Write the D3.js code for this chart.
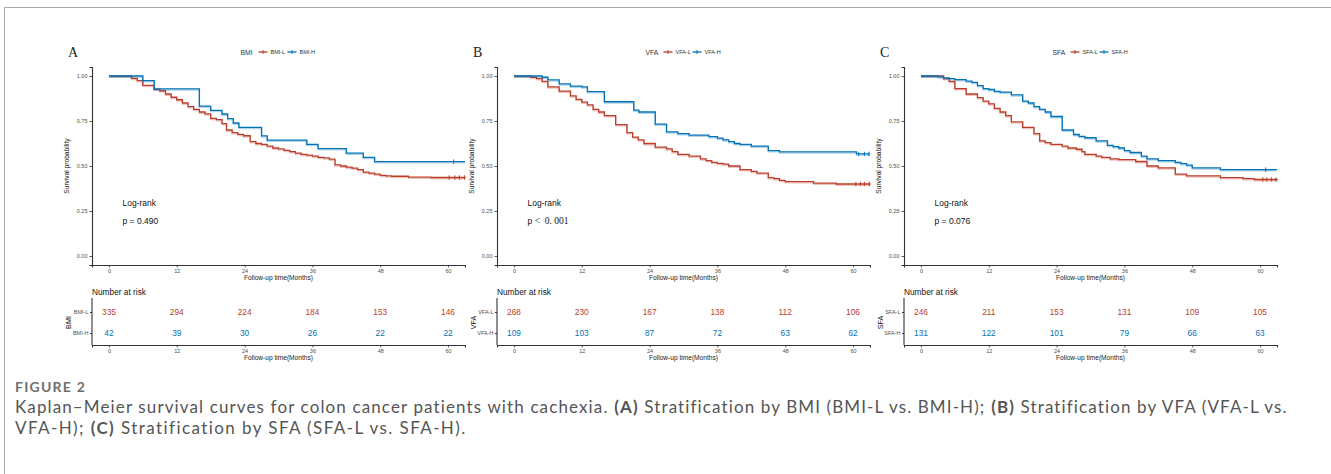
<!DOCTYPE html>
<html lang="en">
<head>
<meta charset="UTF-8">
<title>Figure 2</title>
<script src="https://cdn.jsdelivr.net/npm/d3@7"></script>
<style>
    body { margin: 0; background: #fff; }
    svg { display: block; }
    .tick text { fill: #4d4d4d; font-family: "Liberation Sans", Arial, sans-serif; }
    .domain, .tick line { stroke: #333; }
    .cap { white-space: pre; }
</style>
</head>
<body>
<svg></svg>
<script>
// ---- data ----
const months = [0, 12, 24, 36, 48, 60];
const yTicks = [0, 0.25, 0.5, 0.75, 1];
const panelLetters = ['A', 'B', 'C'];
const groupNames = ['BMI', 'VFA', 'SFA'];
const pTexts = ['p = 0.490', 'p < 0.001', 'p = 0.076'];

const bmiLTime = [0, 4, 5, 6, 8, 9, 10, 11, 12, 13, 14, 15, 16, 17, 18, 19, 20, 20.8, 21.8, 22.8, 23.8, 25, 26, 27, 28, 29, 30, 31, 32, 33, 34, 35, 36, 37, 38, 39, 40, 41, 42, 43, 44, 45, 46, 47, 48, 49, 50, 53, 57, 63];
const bmiLSurv = [1, 0.987, 0.974, 0.948, 0.926, 0.918, 0.9, 0.882, 0.868, 0.85, 0.83, 0.815, 0.8, 0.79, 0.765, 0.758, 0.735, 0.70, 0.685, 0.676, 0.668, 0.635, 0.625, 0.62, 0.61, 0.60, 0.595, 0.587, 0.58, 0.572, 0.565, 0.56, 0.555, 0.548, 0.545, 0.538, 0.506, 0.50, 0.494, 0.488, 0.48, 0.466, 0.46, 0.455, 0.448, 0.445, 0.443, 0.438, 0.436, 0.433];
const bmiHTime = [0, 6, 8, 16, 18, 20, 21, 22, 23, 27, 28, 35, 37, 42, 45, 47, 63];
const bmiHSurv = [1, 0.974, 0.928, 0.833, 0.809, 0.789, 0.763, 0.739, 0.715, 0.667, 0.644, 0.62, 0.596, 0.572, 0.548, 0.524, 0.524];
const bmiLCens = [60.2, 61.2, 62, 62.9];
const bmiHCens = [61];

const vfaLTime = [0, 3, 4, 5, 6, 8, 10, 11, 12, 13, 14, 15, 16, 18, 20, 21, 22, 23, 25, 27, 28, 29, 31, 33, 34, 35, 36, 37, 38, 40, 42, 43, 45, 46, 47, 48, 53, 57, 63];
const vfaLSurv = [1, 0.993, 0.985, 0.97, 0.94, 0.916, 0.89, 0.87, 0.855, 0.84, 0.815, 0.80, 0.78, 0.73, 0.685, 0.66, 0.645, 0.625, 0.605, 0.595, 0.58, 0.565, 0.555, 0.54, 0.53, 0.52, 0.515, 0.51, 0.50, 0.48, 0.47, 0.46, 0.435, 0.43, 0.42, 0.413, 0.405, 0.40, 0.397];
const vfaHTime = [0, 5, 6, 8, 10, 12, 13, 16, 21.2, 22.1, 25, 27, 29, 31, 34.5, 36, 37, 38, 39, 40, 42, 45, 47, 60.6, 63];
const vfaHSurv = [1, 0.993, 0.978, 0.956, 0.944, 0.94, 0.913, 0.857, 0.81, 0.80, 0.733, 0.69, 0.68, 0.672, 0.663, 0.655, 0.645, 0.635, 0.625, 0.62, 0.61, 0.585, 0.578, 0.567, 0.567];
const vfaLCens = [60.5, 61.3, 62, 62.9];
const vfaHCens = [61, 62, 62.8];

const sfaLTime = [0, 4, 5, 6, 8, 10, 11, 12, 13, 14, 15, 16, 18, 20, 21, 22, 23, 25, 26, 27.5, 28.5, 29, 31, 32, 33.5, 35, 38, 40, 42, 45, 47, 53, 57, 59, 63];
const sfaLSurv = [1, 0.985, 0.97, 0.93, 0.90, 0.88, 0.86, 0.845, 0.82, 0.80, 0.78, 0.745, 0.715, 0.68, 0.64, 0.63, 0.62, 0.61, 0.60, 0.593, 0.58, 0.565, 0.555, 0.548, 0.54, 0.535, 0.525, 0.50, 0.49, 0.455, 0.445, 0.435, 0.43, 0.425, 0.42];
const sfaHTime = [0, 3, 4, 5, 6, 8, 9, 10, 11, 12, 13, 14, 16, 18, 19, 20, 21, 22, 23, 25, 27, 28, 29, 31, 33, 34, 35, 36, 37, 39, 40, 42, 45, 46, 47, 48, 53, 63];
const sfaHSurv = [1, 0.995, 0.99, 0.985, 0.98, 0.972, 0.965, 0.946, 0.93, 0.925, 0.915, 0.91, 0.895, 0.86, 0.85, 0.83, 0.815, 0.80, 0.775, 0.70, 0.675, 0.665, 0.657, 0.64, 0.615, 0.608, 0.60, 0.585, 0.575, 0.555, 0.54, 0.53, 0.52, 0.513, 0.505, 0.49, 0.48, 0.48];
const sfaLCens = [60.5, 61.2, 62, 62.8];
const sfaHCens = [61];

const bmiLRisk = [335, 294, 224, 184, 153, 146];
const bmiHRisk = [42, 39, 30, 26, 22, 22];
const vfaLRisk = [268, 230, 167, 138, 112, 106];
const vfaHRisk = [109, 103, 87, 72, 63, 62];
const sfaLRisk = [246, 211, 153, 131, 109, 105];
const sfaHRisk = [131, 122, 101, 79, 66, 63];

const red = '#BC3C29';
const blue = '#0072B5';
const sans = '"Liberation Sans", Arial, sans-serif';

const panels = [
    { L: [bmiLTime, bmiLSurv, bmiLCens, bmiLRisk], H: [bmiHTime, bmiHSurv, bmiHCens, bmiHRisk] },
    { L: [vfaLTime, vfaLSurv, vfaLCens, vfaLRisk], H: [vfaHTime, vfaHSurv, vfaHCens, vfaHRisk] },
    { L: [sfaLTime, sfaLSurv, sfaLCens, sfaLRisk], H: [sfaHTime, sfaHSurv, sfaHCens, sfaHRisk] }
];

const W = 1331, H = 474;
const svg = d3.select('svg').attr('width', W).attr('height', H);

// frame
svg.append('path')
    .attr('d', `M4.5,${H} V7.5 H${W}`)
    .attr('fill', 'none').attr('stroke', '#aaa').attr('stroke-width', 1);

const axisLeftX = [92, 497, 904];
const plotW = 373;
const yScale = d3.scaleLinear().domain([-0.05, 1.05]).range([265, 67]);

panels.forEach((p, i) => {
    const x0 = axisLeftX[i];
    const name = groupNames[i];
    const xScale = d3.scaleLinear().domain([-3, 63]).range([x0, x0 + plotW]);
    const g = svg.append('g');

    // panel letter
    g.append('text').attr('x', x0 - 24).attr('y', 57)
        .attr('font-family', '"Liberation Serif", "Times New Roman", serif')
        .attr('font-size', 14).attr('fill', '#222').text(panelLetters[i]);

    // legend
    const cx = x0 + plotW / 2;
    const leg = g.append('g').attr('transform', `translate(${cx - 38},52)`)
        .attr('font-family', sans).attr('fill', '#333');
    leg.append('text').attr('x', 0).attr('y', 2.5).attr('font-size', 6.8).text(name);
    [[red, name + '-L', 18], [blue, name + '-H', 47]].forEach(([c, lab, lx]) => {
        leg.append('line').attr('x1', lx).attr('x2', lx + 9).attr('y1', 0).attr('y2', 0)
            .attr('stroke', c).attr('stroke-width', 1.3);
        leg.append('line').attr('x1', lx + 4.5).attr('x2', lx + 4.5).attr('y1', -2).attr('y2', 2)
            .attr('stroke', c).attr('stroke-width', 1);
        leg.append('text').attr('x', lx + 12).attr('y', 2).attr('font-size', 5.5).text(lab);
    });

    // axes
    const ya = g.append('g').attr('transform', `translate(${x0},0)`)
        .call(d3.axisLeft(yScale).tickValues(yTicks).tickFormat(d3.format('.2f')).tickSize(2.5).tickPadding(2));
    const xa = g.append('g').attr('transform', 'translate(0,265)')
        .call(d3.axisBottom(xScale).tickValues(months).tickSize(2.5).tickPadding(2));
    [ya, xa].forEach(a => {
        a.select('.domain').attr('stroke-width', 1.1);
        a.selectAll('.tick text').attr('font-size', 5.5);
        a.selectAll('.tick line').attr('stroke-width', 0.8);
    });

    g.append('text').attr('x', xScale(30)).attr('y', 280).attr('text-anchor', 'middle')
        .attr('font-family', sans).attr('font-size', 6.6).attr('fill', '#222').text('Follow-up time(Months)');
    g.append('text').attr('transform', `translate(${x0 - 23},${yScale(0.5)}) rotate(-90)`)
        .attr('text-anchor', 'middle').attr('font-family', sans).attr('font-size', 6.6)
        .attr('fill', '#222').text('Survival probability');

    // curves
    const line = d3.line().curve(d3.curveStepAfter).x(d => xScale(d[0])).y(d => yScale(d[1]));
    [[p.L, red], [p.H, blue]].forEach(([s, c]) => {
        const pts = d3.zip(s[0], s[1]);
        g.append('path').attr('d', line(pts)).attr('fill', 'none')
            .attr('stroke', c).attr('stroke-opacity', 0.3).attr('stroke-width', 1.4)
            .attr('transform', 'translate(0,1.2)');
        g.append('path').attr('d', line(pts)).attr('fill', 'none')
            .attr('stroke', c).attr('stroke-width', 1.3);
        const step = d3.scaleThreshold().domain(s[0].slice(1)).range(s[1]);
        g.selectAll(null).data(s[2]).enter().append('line')
            .attr('x1', d => xScale(d)).attr('x2', d => xScale(d))
            .attr('y1', d => yScale(step(d)) - 2.2).attr('y2', d => yScale(step(d)) + 2.2)
            .attr('stroke', c).attr('stroke-width', 1);
    });

    // log-rank text
    g.append('text').attr('x', xScale(2.4)).attr('y', 206).attr('font-family', sans)
        .attr('font-size', 8.5).attr('fill', '#111').text('Log-rank');
    if (i === 1) {
        const t = g.append('text').attr('x', xScale(2.4)).attr('y', 224).attr('font-size', 8.5).attr('fill', '#111');
        t.append('tspan').attr('font-family', sans).text('p');
        t.append('tspan').attr('font-family', '"Liberation Serif", serif').attr('font-size', 9.5).text('\u00a0<\u00a0 0. 001');
    } else {
        g.append('text').attr('x', xScale(2.4)).attr('y', 224).attr('font-family', sans)
            .attr('font-size', 8.5).attr('fill', '#111').text(pTexts[i]);
    }

    // risk table
    const rScale = d3.scalePoint().domain(['L', 'H']).range([312, 333]);
    g.append('text').attr('x', x0).attr('y', 295).attr('font-family', sans)
        .attr('font-size', 8.3).attr('fill', '#111').text('Number at risk');
    const ra = g.append('g').attr('transform', `translate(${x0},0)`)
        .call(d3.axisLeft(rScale).tickSize(2).tickPadding(1.5).tickFormat(d => name + '-' + d));
    ra.select('.domain').attr('d', 'M0,298V345').attr('stroke-width', 1.1);
    ra.selectAll('.tick text').attr('font-size', 5.5).attr('fill', (d) => d === 'L' ? red : blue);
    ra.selectAll('.tick line').attr('stroke', (d) => d === 'L' ? red : blue);
    const rx = g.append('g').attr('transform', 'translate(0,345)')
        .call(d3.axisBottom(xScale).tickValues(months).tickSize(2.5).tickPadding(2));
    rx.select('.domain').attr('stroke-width', 1.1);
    rx.selectAll('.tick text').attr('font-size', 5.5);
    rx.selectAll('.tick line').attr('stroke-width', 0.8);
    g.append('text').attr('x', xScale(30)).attr('y', 360).attr('text-anchor', 'middle')
        .attr('font-family', sans).attr('font-size', 6.6).attr('fill', '#222').text('Follow-up time(Months)');
    g.append('text').attr('transform', `translate(${x0 - 21},${(312 + 333) / 2}) rotate(-90)`)
        .attr('text-anchor', 'middle').attr('font-family', sans).attr('font-size', 7.2)
        .attr('fill', '#111').text(name);

    [['L', p.L[3], red], ['H', p.H[3], blue]].forEach(([k, vals, c]) => {
        g.selectAll(null).data(vals).enter().append('text')
            .attr('x', (d, j) => xScale(months[j])).attr('y', rScale(k) + 3)
            .attr('text-anchor', 'middle').attr('font-family', sans).attr('font-size', 8.3)
            .attr('fill', c).text(d => d);
    });
});

// caption
const cap = svg.append('g').attr('font-family', 'Lato, "Open Sans", sans-serif');
const fig = cap.append('text').attr('x', 15).attr('y', 392).attr('font-size', 14).attr('font-weight', 700)
    .attr('fill', '#707070').text('FIGURE 2');
fig.attr('letter-spacing', ((71 - fig.node().getComputedTextLength()) / 8).toFixed(3));

const capLines = [
    [['Kaplan\u2013Meier survival curves for colon cancer patients with cachexia. ', 400], ['(A)', 700], [' Stratification by BMI (BMI-L vs. BMI-H); ', 400], ['(B)', 700], [' Stratification by VFA (VFA-L vs.', 400]],
    [['VFA-H); ', 400], ['(C)', 700], [' Stratification by SFA (SFA-L vs. SFA-H).', 400]]
];
const capWidths = [1273, 452];
capLines.forEach((parts, li) => {
    const y = 413 + li * 21;
    const pieces = parts.map(([s, w]) => cap.append('text').attr('class', 'cap')
        .attr('y', y).attr('font-size', 17).attr('font-weight', w).attr('fill', '#555').text(s));
    const widths = pieces.map(t => t.node().getComputedTextLength());
    const nChars = d3.sum(parts, d => d[0].length);
    const ls = (capWidths[li] - d3.sum(widths)) / nChars;
    let x = 15;
    pieces.forEach((t, k) => {
        t.attr('x', x).attr('letter-spacing', ls.toFixed(3));
        x += widths[k] + ls * parts[k][0].length;
    });
});
</script>
</body>
</html>
